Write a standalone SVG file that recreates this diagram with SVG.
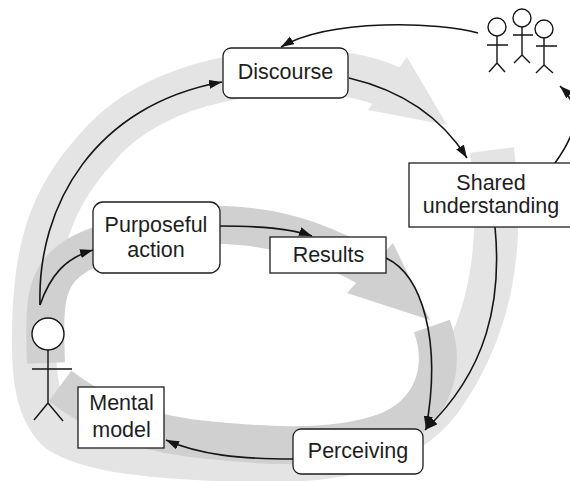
<svg xmlns="http://www.w3.org/2000/svg" width="570" height="481" viewBox="0 0 570 481">
<defs>
<style>
.band{fill:none;stroke-linecap:butt;stroke-linejoin:round}
.outer{stroke:#e4e4e4}
.inner{stroke:#d0d0d0}
.box{fill:#fff;stroke:#1e1e1e;stroke-width:1.3}
.lbl{font-family:"Liberation Sans",Arial,sans-serif;font-size:21.5px;fill:#1e1e1e;text-anchor:middle}
.con{fill:none;stroke:#151515;stroke-width:1.6}
.fig{fill:none;stroke:#151515;stroke-width:1.4}
.head{fill:#fff;stroke:#151515;stroke-width:1.4}
</style>
<marker id="ah" markerUnits="userSpaceOnUse" markerWidth="14" markerHeight="10" refX="13" refY="4.5" orient="auto">
<path d="M0,0 L13,4.5 L0,9 Z" fill="#151515"/>
</marker>
</defs>
<rect width="570" height="481" fill="#fff"/>
<g id="bands">
<path class="band outer" stroke-width="44" d="M492,150 C505,250 490,330 440,400 C400,452 330,462 250,460 C160,458 90,452 58,430 C38,410 33,380 34,330 C35,250 50,200 95,150 C140,95 220,72 300,72 C340,72 365,76 392,88"/>
<polygon fill="#e4e4e4" points="407,57 447,125 368,110"/>
<path class="band inner" stroke-width="38" d="M432,326 C448,372 430,415 385,432 C330,452 250,445 190,438 C130,430 92,410 60,386"/>
<path class="band inner" stroke-width="38" d="M46,363 C45,335 45,320 46,310 C48,275 65,257 100,245 C140,228 190,222 240,226 C290,230 330,246 372,270"/>
<polygon fill="#d0d0d0" points="393,243 430,320 347,293"/>
</g>
<g id="connectors">
<path class="con" marker-end="url(#ah)" d="M478,33 C440,22 330,18 281,47"/>
<path class="con" marker-end="url(#ah)" d="M40,305 C37,205 95,105 222,82"/>
<path class="con" marker-end="url(#ah)" d="M40,305 C50,276 65,258 93,250"/>
<path class="con" marker-end="url(#ah)" d="M220,226 C260,226 290,228 312,236"/>
<path class="con" marker-end="url(#ah)" d="M349,78 C400,90 440,115 467,158"/>
<path class="con" marker-end="url(#ah)" d="M555,163 C575,135 585,110 560,86"/>
<path class="con" marker-end="url(#ah)" d="M495,227 C502,300 488,370 425,430"/>
<path class="con" marker-end="url(#ah)" d="M386,258 C422,275 442,340 426,429"/>
<path class="con" marker-end="url(#ah)" d="M293,459 C240,459 200,455 166,440"/>
</g>
<g id="discourse">
<rect class="box" x="223" y="48" width="125" height="50" rx="8"/>
<text class="lbl" x="285.5" y="79">Discourse</text>
</g>
<g id="shared-understanding">
<rect class="box" x="409" y="163" width="162" height="64"/>
<text class="lbl" x="491" y="189.5">Shared</text>
<text class="lbl" x="491" y="213">understanding</text>
</g>
<g id="purposeful-action">
<rect class="box" x="93" y="202" width="127" height="71" rx="10"/>
<text class="lbl" x="156" y="231.5">Purposeful</text>
<text class="lbl" x="156" y="256.5">action</text>
</g>
<g id="results">
<rect class="box" x="270" y="237" width="116" height="36"/>
<text class="lbl" x="328.5" y="261.5">Results</text>
</g>
<g id="perceiving">
<rect class="box" x="293" y="429" width="130" height="45" rx="8"/>
<text class="lbl" x="358" y="458.3">Perceiving</text>
</g>
<g id="mental-model">
<rect class="box" x="78" y="387" width="86" height="61"/>
<text class="lbl" x="121.5" y="410">Mental</text>
<text class="lbl" x="121.5" y="436.5">model</text>
</g>
<g id="person">
<circle class="head" cx="48" cy="334" r="16"/>
<path class="fig" d="M48,350 V403 M32,369 H72 M48,403 L34,420 M48,403 L63,421"/>
</g>
<g id="people">
<circle class="head" cx="497" cy="27" r="9"/>
<path class="fig" d="M497,36 V63 M487,45 H508 M497,63 L489,72 M497,63 L505,72"/>
<circle class="head" cx="522" cy="18" r="9"/>
<path class="fig" d="M522,27 V55 M513,35 H533 M522,55 L514,63 M522,55 L530,63"/>
<circle class="head" cx="544" cy="29" r="9"/>
<path class="fig" d="M544,38 V65 M536,46 H557 M544,65 L536,73 M544,65 L553,73"/>
</g>
</svg>
